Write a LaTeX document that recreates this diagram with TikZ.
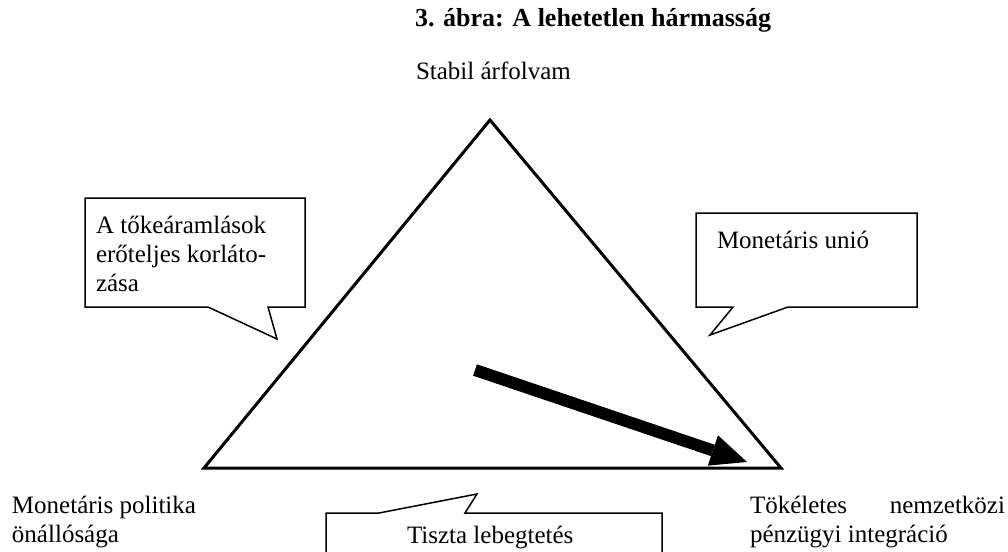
\documentclass[tikz,border=0pt]{standalone}
\usepackage{fontspec}
\setmainfont{Liberation Serif}
\usetikzlibrary{calc}
\begin{document}
\begin{tikzpicture}[x=1pt,y=-1pt,
  txt/.style={inner sep=0pt, outer sep=0pt, font=\fontsize{25}{29}\selectfont, anchor=base west},
  callout/.style={draw=black, line width=1.5pt, line join=miter, fill=white},
  tri/.style={draw=black, line width=3pt, line join=miter}]
\useasboundingbox (0,0) rectangle (1008,551);
% triangle
\coordinate (apex) at (490,120);
\coordinate (lc) at (204,468);
\coordinate (rc) at (781,468);
\draw[tri] (apex) -- (lc) -- (rc) -- cycle;
% title and corner labels (base anchor = baseline of last line)
\node[txt, font=\fontsize{26}{29}\selectfont\bfseries] (title) at (415,27) {3. ábra: A lehetetlen hármasság};
\node[txt] (top) at (416,79) {Stabil árfolvam};
\node[txt, align=left] (left) at (12,542) {Monetáris politika\\önállósága};
\node[txt, align=left] (right) at (750,542) {\makebox[255pt][s]{Tökéletes nemzetközi}\\pénzügyi integráció};
% left callout
\draw[callout] (85,198) -- (305,198) -- (305,307) -- (268,307) -- (277,339) -- (208,307) -- (85,307) -- cycle;
\node[txt, align=left] (lbox) at (96,291) {A tőkeáramlások\\erőteljes korláto-\\zása};
% right callout
\draw[callout] (696,213) -- (917,213) -- (917,307) -- (788,307) -- (710,335) -- (733,307) -- (696,307) -- cycle;
\node[txt] (rbox) at (717,248) {Monetáris unió};
% bottom callout
\begin{scope}
\clip (0,0) rectangle (1008,551);
\draw[callout] (326,513) -- (379,513) -- (477,494) -- (465,513) -- (662,513) -- (662,570) -- (326,570) -- cycle;
\end{scope}
\node[txt] (bbox) at (407,543) {Tiszta lebegtetés};
% thick arrow
\coordinate (at) at (475,370);
\coordinate (ah) at (747,462);
\coordinate (ab) at ($(ah)!36pt!(at)$);
\coordinate (ab1) at ($(ab)!16pt!90:(ah)$);
\coordinate (ab2) at ($(ab)!16pt!-90:(ah)$);
\draw[line width=12pt] (at) -- (ab);
\fill (ab1) -- (ah) -- (ab2) -- cycle;
\end{tikzpicture}
\end{document}
